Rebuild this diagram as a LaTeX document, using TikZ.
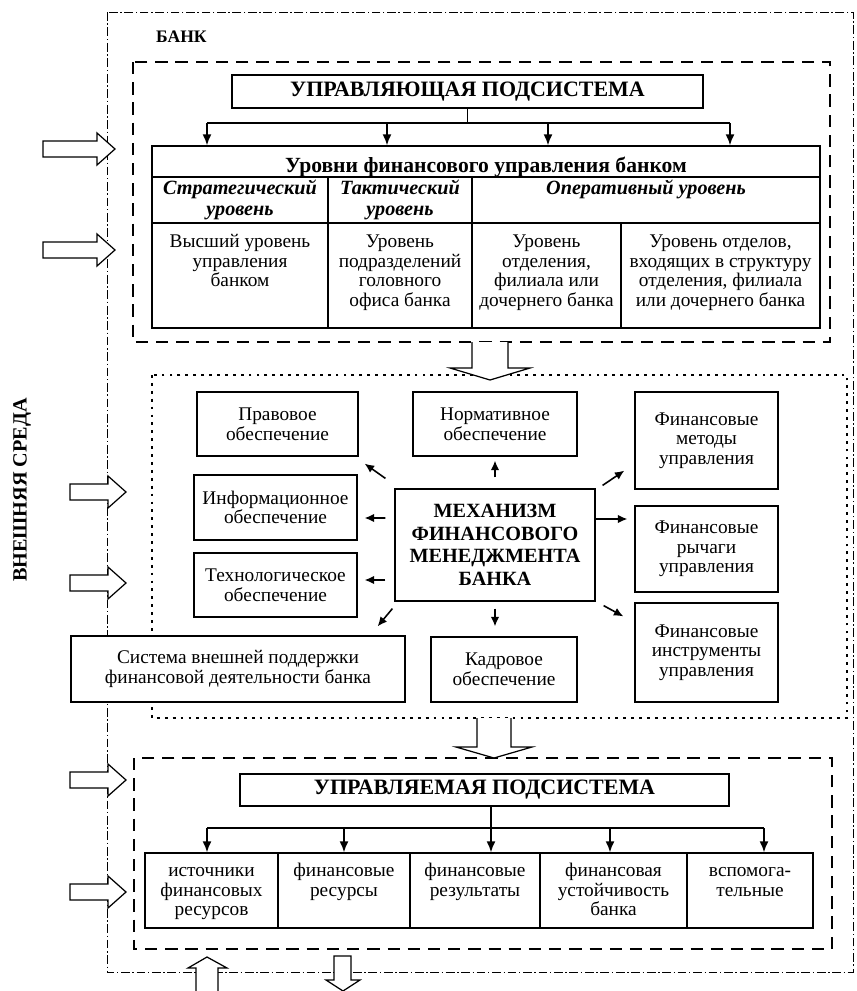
\documentclass[tikz,border=0pt]{standalone}
\usepackage{fontspec}
\setmainfont{Liberation Serif}
\usetikzlibrary{arrows.meta}

\begin{document}
\begin{tikzpicture}[x=0.02cm, y=-0.02cm,
    cbox/.style={draw, line width=0.7pt, fill=white, align=center, inner sep=1pt,
                 font=\fontsize{11}{11.2}\selectfont},
    tbox/.style n args={3}{draw, line width=0.7pt, fill=white, inner sep=0pt,
                 font=\fontsize{11}{11.2}\selectfont,
                 execute at begin node={\begin{minipage}[c][#2][t]{#1}\centering\vspace*{#3}\strut},
                 execute at end node={\end{minipage}}},
    head/.style={cbox, font=\bfseries\fontsize{12.5}{13}\selectfont},
    hollow/.style={draw, line width=0.7pt, fill=white},
    bus/.style={line width=1.1pt},
    tipped/.style={-{Latex[length=2.2mm,width=1.8mm]}},
    spoke/.style={line width=0.9pt, -{Latex[length=1.9mm,width=1.7mm]}},
    frame/.style={line width=0.5pt, dash pattern=on 5pt off 1.5pt on 0.8pt off 1.5pt},
    subsys/.style={line width=1.6pt, dash pattern=on 7pt off 4.5pt},
    mechsys/.style={line width=1.6pt, dash pattern=on 1.6pt off 2.9pt}]
  \useasboundingbox (0,0) rectangle (856,991);

  % bank and its environment
  \draw[frame] (107,12) rectangle (853,972);
  \node[anchor=west, font=\bfseries\fontsize{10}{10}\selectfont] (bank) at (150,37) {БАНК};
  \node[rotate=90, font=\bfseries\fontsize{11.5}{12}\selectfont] (env) at (22,490) {ВНЕШНЯЯ СРЕДА};
  \draw[subsys] (133,62) rectangle (830,342);
  \draw[mechsys] (152,375) rectangle (847,718);
  \draw[subsys] (134,758) rectangle (832,949);

  % managing subsystem
  \node[head, minimum width=9.42cm, minimum height=0.66cm] (upr) at (467.5,91.5) {УПРАВЛЯЮЩАЯ ПОДСИСТЕМА};
  \node[cbox, font=\bfseries\fontsize{12.3}{12.5}\selectfont, minimum width=13.36cm, minimum height=0.62cm,
        text height=12pt, text depth=0pt] (hdr) at (486,161.5) {Уровни финансового управления банком};
  \node[tbox={3.52cm}{0.92cm}{1.5pt}, font=\bfseries\itshape\fontsize{11.5}{12}\selectfont] (c1) at (240,200) {Стратегический\\уровень};
  \node[tbox={2.88cm}{0.92cm}{1.5pt}, font=\bfseries\itshape\fontsize{11.5}{12}\selectfont] (c2) at (400,200) {Тактический\\уровень};
  \node[tbox={6.96cm}{0.92cm}{1.5pt}, font=\bfseries\itshape\fontsize{11.5}{12}\selectfont] (c3) at (646,200) {Оперативный уровень};
  \node[tbox={3.52cm}{2.1cm}{6pt}] (d1) at (240,275.5) {Высший уровень\\управления\\банком};
  \node[tbox={2.88cm}{2.1cm}{6pt}] (d2) at (400,275.5) {Уровень\\подразделений\\головного\\офиса банка};
  \node[tbox={2.98cm}{2.1cm}{6pt}] (d3) at (546.5,275.5) {Уровень\\отделения,\\филиала или\\дочернего банка};
  \node[tbox={3.98cm}{2.1cm}{6pt}] (d4) at (720.5,275.5) {Уровень отделов,\\входящих в структуру\\отделения, филиала\\или дочернего банка};
  \draw[bus] (upr.south) -- (upr.south |- 0,123);
  \draw[bus] (207,123) -- (730,123);
  \foreach \x in {207,387,548,730}
    \draw[bus, tipped] (\x,123) -- (\x,0 |- hdr.north);

  % mechanism
  \node[cbox, minimum width=3.22cm, minimum height=1.28cm] (prav) at (277.5,424) {Правовое\\обеспечение};
  \node[cbox, minimum width=3.28cm, minimum height=1.28cm] (norm) at (495,424) {Нормативное\\обеспечение};
  \node[cbox, minimum width=2.86cm, minimum height=1.94cm] (meth) at (706.5,440.5) {Финансовые\\методы\\управления};
  \node[cbox, minimum width=3.26cm, minimum height=1.30cm] (info) at (275.5,507.5) {Информационное\\обеспечение};
  \node[cbox, minimum width=4.00cm, minimum height=2.24cm, font=\bfseries\fontsize{11.5}{12.8}\selectfont] (mech) at (495,545)
       {МЕХАНИЗМ\\ФИНАНСОВОГО\\МЕНЕДЖМЕНТА\\БАНКА};
  \node[cbox, minimum width=2.86cm, minimum height=1.72cm] (lev) at (706.5,549) {Финансовые\\рычаги\\управления};
  \node[cbox, minimum width=3.26cm, minimum height=1.28cm] (tech) at (275.5,585) {Технологическое\\обеспечение};
  \node[cbox, minimum width=2.86cm, minimum height=1.98cm] (instr) at (706.5,652.5) {Финансовые\\инструменты\\управления};
  \node[cbox, minimum width=6.68cm, minimum height=1.32cm] (ext) at (238,669) {Система внешней поддержки\\финансовой деятельности банка};
  \node[cbox, minimum width=2.92cm, minimum height=1.30cm] (kadr) at (504,669.5) {Кадровое\\обеспечение};
  \draw[spoke] ([shift={(-9,-10)}]mech.north west) -- ([shift={(6,7)}]prav.south east);
  \draw[spoke] ([shift={(0,-11)}]mech.north) -- ([shift={(0,4)}]norm.south);
  \draw[spoke] ([shift={(7,-3)}]mech.north east) -- ([shift={(-10,-19)}]meth.south west);
  \draw[spoke] ([shift={(-9,-27)}]mech.west) -- ([shift={(7,10.5)}]info.east);
  \draw[spoke] ([shift={(0,-26)}]mech.east) -- ([shift={(-7,-30)}]lev.west);
  \draw[spoke] ([shift={(-9,35)}]mech.west) -- ([shift={(7,-5)}]tech.east);
  \draw[spoke] ([shift={(-2,7)}]mech.south west) -- ([shift={(-28,-9)}]ext.north east);
  \draw[spoke] ([shift={(0,7)}]mech.south) -- ([shift={(-9,-10)}]kadr.north);
  \draw[spoke] ([shift={(8,4)}]mech.south east) -- ([shift={(-11,14)}]instr.north west);

  % managed subsystem
  \node[head, minimum width=9.78cm, minimum height=0.64cm] (upm) at (484.5,790) {УПРАВЛЯЕМАЯ ПОДСИСТЕМА};
  \node[tbox={2.66cm}{1.5cm}{5.5pt}] (r1) at (211.5,890.5) {источники\\финансовых\\ресурсов};
  \node[tbox={2.64cm}{1.5cm}{5.5pt}] (r2) at (344,890.5) {финансовые\\ресурсы};
  \node[tbox={2.60cm}{1.5cm}{5.5pt}] (r3) at (475,890.5) {финансовые\\результаты};
  \node[tbox={2.94cm}{1.5cm}{5.5pt}] (r4) at (613.5,890.5) {финансовая\\устойчивость\\банка};
  \node[tbox={2.52cm}{1.5cm}{5.5pt}] (r5) at (750,890.5) {вспомога-\\тельные};
  \draw[bus] (491,0 |- upm.south) -- (491,828);
  \draw[bus] (207,828) -- (764,828);
  \foreach \x in {207,344,491,610,764}
    \draw[bus, tipped] (\x,828) -- (\x,0 |- r1.north);

  % flows
  \foreach \x/\y/\l in {43/149/54, 43/250/54, 70/492/38, 70/583/38, 70/780/38, 70/892/38}
    \draw[hollow, shift={(\x,\y)}] (0,-8) -- (\l,-8) -- (\l,-16) -- ({\l+18},0) -- (\l,16) -- (\l,8) -- (0,8) -- cycle;
  \draw[hollow] (472,342) -- (472,368) -- (450,368) -- (490,380) -- (530,368) -- (508,368) -- (508,342);
  \draw[hollow] (477,718) -- (477,747) -- (456,747) -- (494,758) -- (532,747) -- (511,747) -- (511,718);
  \draw[hollow] (196,991) -- (196,968) -- (188,968) -- (207,957) -- (227,968) -- (218,968) -- (218,991);
  \draw[hollow] (334,956) -- (334,980) -- (326,980) -- (343,991) -- (360,980) -- (351,980) -- (351,956) -- cycle;
\end{tikzpicture}
\end{document}
